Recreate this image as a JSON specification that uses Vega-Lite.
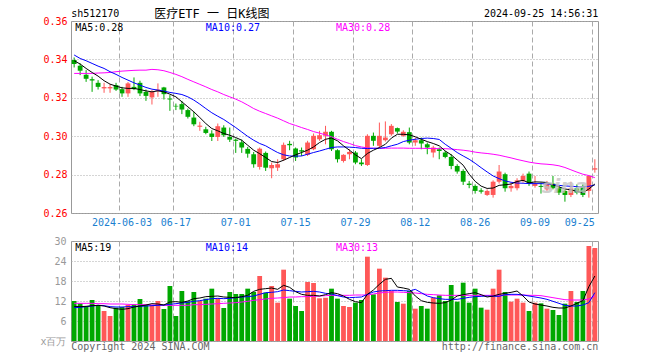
{
"$schema": "https://vega.github.io/schema/vega-lite/v6.json",
"background": "white",
"padding": {"left": 39, "top": 7, "right": 0, "bottom": 0},
"autosize": {"type": "pad"},
"bounds": "flush",
"spacing": 28,
"config": {
  "view": {"stroke": "#999999", "strokeWidth": 1},
  "font": "DejaVu Sans Mono",
  "axis": {"labelFont": "DejaVu Sans Mono", "labelFontSize": 10, "ticks": false, "domain": false, "grid": true, "gridColor": "#aaaaaa", "gridWidth": 1, "labelOverlap": false}
},
"datasets": {"k": [
{"d":"2024-05-22","o":0.3397,"h":0.3410,"l":0.3358,"c":0.3376,"v":12.0,"m5":0.3393,"m10":0.3423,"m30":0.3327,"vm5":10.4,"vm10":10.0,"vm30":11.3},
{"d":"2024-05-23","o":0.3367,"h":0.3379,"l":0.3318,"c":0.3341,"v":11.3,"m5":0.3376,"m10":0.3405,"m30":0.3327,"vm5":10.3,"vm10":10.1,"vm30":11.3},
{"d":"2024-05-24","o":0.3320,"h":0.3344,"l":0.3283,"c":0.3299,"v":10.5,"m5":0.3353,"m10":0.3393,"m30":0.3327,"vm5":10.4,"vm10":10.3,"vm30":11.3},
{"d":"2024-05-27","o":0.3297,"h":0.3310,"l":0.3231,"c":0.3290,"v":12.3,"m5":0.3332,"m10":0.3379,"m30":0.3327,"vm5":10.6,"vm10":10.5,"vm30":11.3},
{"d":"2024-05-28","o":0.3278,"h":0.3292,"l":0.3243,"c":0.3257,"v":10.8,"m5":0.3313,"m10":0.3365,"m30":0.3329,"vm5":10.7,"vm10":10.7,"vm30":11.2},
{"d":"2024-05-29","o":0.3249,"h":0.3278,"l":0.3226,"c":0.3256,"v":9.0,"m5":0.3289,"m10":0.3353,"m30":0.3330,"vm5":10.5,"vm10":10.6,"vm30":11.2},
{"d":"2024-05-30","o":0.3249,"h":0.3271,"l":0.3226,"c":0.3256,"v":7.5,"m5":0.3271,"m10":0.3336,"m30":0.3332,"vm5":10.0,"vm10":10.3,"vm30":11.1},
{"d":"2024-05-31","o":0.3266,"h":0.3278,"l":0.3236,"c":0.3243,"v":10.0,"m5":0.3261,"m10":0.3322,"m30":0.3336,"vm5":9.7,"vm10":10.2,"vm30":11.1},
{"d":"2024-06-03","o":0.3245,"h":0.3257,"l":0.3205,"c":0.3223,"v":10.2,"m5":0.3252,"m10":0.3306,"m30":0.3339,"vm5":9.5,"vm10":10.2,"vm30":11.1},
{"d":"2024-06-04","o":0.3223,"h":0.3282,"l":0.3205,"c":0.3275,"v":10.8,"m5":0.3249,"m10":0.3292,"m30":0.3341,"vm5":9.7,"vm10":10.3,"vm30":11.0},
{"d":"2024-06-05","o":0.3257,"h":0.3306,"l":0.3240,"c":0.3245,"v":11.0,"m5":0.3249,"m10":0.3278,"m30":0.3343,"vm5":10.2,"vm10":10.3,"vm30":10.9},
{"d":"2024-06-06","o":0.3278,"h":0.3289,"l":0.3209,"c":0.3223,"v":12.6,"m5":0.3243,"m10":0.3266,"m30":0.3344,"vm5":10.5,"vm10":10.4,"vm30":10.9},
{"d":"2024-06-07","o":0.3231,"h":0.3243,"l":0.3184,"c":0.3210,"v":10.8,"m5":0.3236,"m10":0.3254,"m30":0.3344,"vm5":10.8,"vm10":10.5,"vm30":10.9},
{"d":"2024-06-11","o":0.3202,"h":0.3240,"l":0.3165,"c":0.3231,"v":10.8,"m5":0.3231,"m10":0.3245,"m30":0.3348,"vm5":11.2,"vm10":10.6,"vm30":10.8},
{"d":"2024-06-12","o":0.3236,"h":0.3275,"l":0.3205,"c":0.3243,"v":12.0,"m5":0.3236,"m10":0.3240,"m30":0.3346,"vm5":11.1,"vm10":10.7,"vm30":10.8},
{"d":"2024-06-13","o":0.3254,"h":0.3257,"l":0.3191,"c":0.3219,"v":9.6,"m5":0.3231,"m10":0.3235,"m30":0.3341,"vm5":10.8,"vm10":10.8,"vm30":10.7},
{"d":"2024-06-14","o":0.3196,"h":0.3214,"l":0.3132,"c":0.3191,"v":16.5,"m5":0.3219,"m10":0.3228,"m30":0.3332,"vm5":11.7,"vm10":11.0,"vm30":10.7},
{"d":"2024-06-17","o":0.3158,"h":0.3170,"l":0.3136,"c":0.3155,"v":7.5,"m5":0.3205,"m10":0.3223,"m30":0.3322,"vm5":11.8,"vm10":11.2,"vm30":10.7},
{"d":"2024-06-18","o":0.3167,"h":0.3184,"l":0.3115,"c":0.3139,"v":15.0,"m5":0.3179,"m10":0.3217,"m30":0.3310,"vm5":11.6,"vm10":11.4,"vm30":10.7},
{"d":"2024-06-19","o":0.3136,"h":0.3144,"l":0.3092,"c":0.3101,"v":11.9,"m5":0.3153,"m10":0.3205,"m30":0.3296,"vm5":12.0,"vm10":11.6,"vm30":10.7},
{"d":"2024-06-20","o":0.3097,"h":0.3127,"l":0.3052,"c":0.3062,"v":14.7,"m5":0.3127,"m10":0.3188,"m30":0.3283,"vm5":12.7,"vm10":11.9,"vm30":10.9},
{"d":"2024-06-21","o":0.3049,"h":0.3075,"l":0.3028,"c":0.3055,"v":12.0,"m5":0.3097,"m10":0.3167,"m30":0.3270,"vm5":12.9,"vm10":12.1,"vm30":10.9},
{"d":"2024-06-24","o":0.3036,"h":0.3049,"l":0.3010,"c":0.3017,"v":12.7,"m5":0.3066,"m10":0.3144,"m30":0.3257,"vm5":13.3,"vm10":12.4,"vm30":11.0},
{"d":"2024-06-25","o":0.3014,"h":0.3031,"l":0.2975,"c":0.2996,"v":15.7,"m5":0.3040,"m10":0.3122,"m30":0.3243,"vm5":13.4,"vm10":12.7,"vm30":11.1},
{"d":"2024-06-26","o":0.2996,"h":0.3066,"l":0.2975,"c":0.3052,"v":12.8,"m5":0.3028,"m10":0.3104,"m30":0.3231,"vm5":13.5,"vm10":12.8,"vm30":11.2},
{"d":"2024-06-27","o":0.3045,"h":0.3057,"l":0.2996,"c":0.3005,"v":9.9,"m5":0.3014,"m10":0.3087,"m30":0.3217,"vm5":13.2,"vm10":12.7,"vm30":11.3},
{"d":"2024-06-28","o":0.2996,"h":0.3045,"l":0.2970,"c":0.2982,"v":14.7,"m5":0.3005,"m10":0.3066,"m30":0.3205,"vm5":13.1,"vm10":12.8,"vm30":11.4},
{"d":"2024-07-01","o":0.2982,"h":0.2988,"l":0.2913,"c":0.2976,"v":14.1,"m5":0.2993,"m10":0.3045,"m30":0.3193,"vm5":13.0,"vm10":13.0,"vm30":11.5},
{"d":"2024-07-02","o":0.2968,"h":0.2982,"l":0.2913,"c":0.2941,"v":14.1,"m5":0.2979,"m10":0.3022,"m30":0.3179,"vm5":13.3,"vm10":13.2,"vm30":11.7},
{"d":"2024-07-03","o":0.2934,"h":0.2944,"l":0.2888,"c":0.2909,"v":15.7,"m5":0.2953,"m10":0.2999,"m30":0.3162,"vm5":13.7,"vm10":13.3,"vm30":11.9},
{"d":"2024-07-04","o":0.2906,"h":0.2918,"l":0.2836,"c":0.2854,"v":14.7,"m5":0.2927,"m10":0.2979,"m30":0.3144,"vm5":14.9,"vm10":13.5,"vm30":12.2},
{"d":"2024-07-05","o":0.2840,"h":0.2941,"l":0.2826,"c":0.2935,"v":19.5,"m5":0.2909,"m10":0.2962,"m30":0.3130,"vm5":15.5,"vm10":14.0,"vm30":12.4},
{"d":"2024-07-08","o":0.2913,"h":0.2920,"l":0.2819,"c":0.2836,"v":14.5,"m5":0.2889,"m10":0.2950,"m30":0.3118,"vm5":15.7,"vm10":14.5,"vm30":12.6},
{"d":"2024-07-09","o":0.2833,"h":0.2863,"l":0.2781,"c":0.2850,"v":16.5,"m5":0.2868,"m10":0.2932,"m30":0.3106,"vm5":15.9,"vm10":14.6,"vm30":12.8},
{"d":"2024-07-10","o":0.2836,"h":0.2880,"l":0.2819,"c":0.2854,"v":11.5,"m5":0.2863,"m10":0.2915,"m30":0.3094,"vm5":15.5,"vm10":14.8,"vm30":12.9},
{"d":"2024-07-11","o":0.2880,"h":0.2967,"l":0.2871,"c":0.2955,"v":21.4,"m5":0.2875,"m10":0.2903,"m30":0.3080,"vm5":16.7,"vm10":15.3,"vm30":13.0},
{"d":"2024-07-12","o":0.2960,"h":0.2976,"l":0.2927,"c":0.2953,"v":12.7,"m5":0.2889,"m10":0.2897,"m30":0.3066,"vm5":16.1,"vm10":15.1,"vm30":13.2},
{"d":"2024-07-15","o":0.2936,"h":0.2941,"l":0.2871,"c":0.2889,"v":10.5,"m5":0.2903,"m10":0.2896,"m30":0.3056,"vm5":14.8,"vm10":14.9,"vm30":13.2},
{"d":"2024-07-16","o":0.2927,"h":0.2941,"l":0.2897,"c":0.2920,"v":9.0,"m5":0.2915,"m10":0.2897,"m30":0.3045,"vm5":14.0,"vm10":14.7,"vm30":13.3},
{"d":"2024-07-17","o":0.2903,"h":0.2976,"l":0.2897,"c":0.2967,"v":17.7,"m5":0.2927,"m10":0.2906,"m30":0.3035,"vm5":13.7,"vm10":14.8,"vm30":13.3},
{"d":"2024-07-18","o":0.2932,"h":0.3014,"l":0.2927,"c":0.3002,"v":17.4,"m5":0.2944,"m10":0.2915,"m30":0.3024,"vm5":13.7,"vm10":14.9,"vm30":13.4},
{"d":"2024-07-19","o":0.2984,"h":0.3028,"l":0.2976,"c":0.3005,"v":12.8,"m5":0.2967,"m10":0.2923,"m30":0.3016,"vm5":13.5,"vm10":14.7,"vm30":13.5},
{"d":"2024-07-22","o":0.3002,"h":0.3054,"l":0.2958,"c":0.3023,"v":13.0,"m5":0.2984,"m10":0.2932,"m30":0.3007,"vm5":13.9,"vm10":14.3,"vm30":13.6},
{"d":"2024-07-23","o":0.3023,"h":0.3028,"l":0.2923,"c":0.2932,"v":15.7,"m5":0.2990,"m10":0.2941,"m30":0.2997,"vm5":14.5,"vm10":14.1,"vm30":13.7},
{"d":"2024-07-24","o":0.2927,"h":0.2932,"l":0.2863,"c":0.2880,"v":12.7,"m5":0.2976,"m10":0.2944,"m30":0.2984,"vm5":14.2,"vm10":13.6,"vm30":13.7},
{"d":"2024-07-25","o":0.2871,"h":0.2906,"l":0.2863,"c":0.2903,"v":10.5,"m5":0.2950,"m10":0.2944,"m30":0.2972,"vm5":13.5,"vm10":13.2,"vm30":13.7},
{"d":"2024-07-26","o":0.2906,"h":0.2932,"l":0.2880,"c":0.2918,"v":10.2,"m5":0.2927,"m10":0.2943,"m30":0.2962,"vm5":12.5,"vm10":13.0,"vm30":13.7},
{"d":"2024-07-29","o":0.2915,"h":0.2923,"l":0.2854,"c":0.2863,"v":11.5,"m5":0.2903,"m10":0.2941,"m30":0.2951,"vm5":11.8,"vm10":13.1,"vm30":13.8},
{"d":"2024-07-30","o":0.2863,"h":0.2880,"l":0.2845,"c":0.2854,"v":12.3,"m5":0.2883,"m10":0.2937,"m30":0.2944,"vm5":11.5,"vm10":13.2,"vm30":13.8},
{"d":"2024-07-31","o":0.2850,"h":0.3010,"l":0.2845,"c":0.3002,"v":25.3,"m5":0.2910,"m10":0.2936,"m30":0.2939,"vm5":14.0,"vm10":14.0,"vm30":13.8},
{"d":"2024-08-01","o":0.3002,"h":0.3019,"l":0.2950,"c":0.2976,"v":14.0,"m5":0.2927,"m10":0.2937,"m30":0.2937,"vm5":15.3,"vm10":14.7,"vm30":14.1},
{"d":"2024-08-02","o":0.2950,"h":0.3071,"l":0.2941,"c":0.3002,"v":21.7,"m5":0.2941,"m10":0.2937,"m30":0.2937,"vm5":17.0,"vm10":15.0,"vm30":14.4},
{"d":"2024-08-05","o":0.2979,"h":0.3077,"l":0.2972,"c":0.2993,"v":19.0,"m5":0.2958,"m10":0.2941,"m30":0.2937,"vm5":18.5,"vm10":15.1,"vm30":14.6},
{"d":"2024-08-06","o":0.3010,"h":0.3063,"l":0.3002,"c":0.3054,"v":15.0,"m5":0.2990,"m10":0.2950,"m30":0.2938,"vm5":18.8,"vm10":15.2,"vm30":14.7},
{"d":"2024-08-07","o":0.3042,"h":0.3045,"l":0.3014,"c":0.3024,"v":11.7,"m5":0.3010,"m10":0.2958,"m30":0.2938,"vm5":16.2,"vm10":15.2,"vm30":14.7},
{"d":"2024-08-08","o":0.3002,"h":0.3031,"l":0.2997,"c":0.3023,"v":11.2,"m5":0.3010,"m10":0.2972,"m30":0.2938,"vm5":15.9,"vm10":15.1,"vm30":14.6},
{"d":"2024-08-09","o":0.3021,"h":0.3045,"l":0.2958,"c":0.2967,"v":15.0,"m5":0.3007,"m10":0.2979,"m30":0.2937,"vm5":15.5,"vm10":15.0,"vm30":14.5},
{"d":"2024-08-12","o":0.2967,"h":0.2993,"l":0.2950,"c":0.2979,"v":9.7,"m5":0.2997,"m10":0.2984,"m30":0.2937,"vm5":13.5,"vm10":15.5,"vm30":14.4},
{"d":"2024-08-13","o":0.2979,"h":0.2993,"l":0.2932,"c":0.2962,"v":10.5,"m5":0.2984,"m10":0.2988,"m30":0.2937,"vm5":12.1,"vm10":14.5,"vm30":14.2},
{"d":"2024-08-14","o":0.2958,"h":0.2967,"l":0.2906,"c":0.2941,"v":9.7,"m5":0.2972,"m10":0.2990,"m30":0.2936,"vm5":11.6,"vm10":13.5,"vm30":14.0},
{"d":"2024-08-15","o":0.2915,"h":0.2950,"l":0.2889,"c":0.2941,"v":13.0,"m5":0.2962,"m10":0.2988,"m30":0.2936,"vm5":11.4,"vm10":13.0,"vm30":13.9},
{"d":"2024-08-16","o":0.2932,"h":0.2941,"l":0.2880,"c":0.2923,"v":13.7,"m5":0.2950,"m10":0.2983,"m30":0.2935,"vm5":11.3,"vm10":12.7,"vm30":13.8},
{"d":"2024-08-19","o":0.2915,"h":0.2923,"l":0.2885,"c":0.2892,"v":12.0,"m5":0.2923,"m10":0.2958,"m30":0.2935,"vm5":11.5,"vm10":12.5,"vm30":13.7},
{"d":"2024-08-20","o":0.2892,"h":0.2906,"l":0.2828,"c":0.2845,"v":16.8,"m5":0.2903,"m10":0.2937,"m30":0.2933,"vm5":12.3,"vm10":12.5,"vm30":13.7},
{"d":"2024-08-21","o":0.2845,"h":0.2854,"l":0.2805,"c":0.2816,"v":11.8,"m5":0.2876,"m10":0.2915,"m30":0.2930,"vm5":13.5,"vm10":12.5,"vm30":13.7},
{"d":"2024-08-22","o":0.2819,"h":0.2828,"l":0.2746,"c":0.2763,"v":17.5,"m5":0.2849,"m10":0.2897,"m30":0.2927,"vm5":13.9,"vm10":12.8,"vm30":13.7},
{"d":"2024-08-23","o":0.2753,"h":0.2767,"l":0.2729,"c":0.2746,"v":11.5,"m5":0.2802,"m10":0.2880,"m30":0.2923,"vm5":14.2,"vm10":13.1,"vm30":13.7},
{"d":"2024-08-26","o":0.2741,"h":0.2749,"l":0.2701,"c":0.2715,"v":15.7,"m5":0.2765,"m10":0.2859,"m30":0.2917,"vm5":14.5,"vm10":13.3,"vm30":13.7},
{"d":"2024-08-27","o":0.2718,"h":0.2729,"l":0.2701,"c":0.2711,"v":10.0,"m5":0.2740,"m10":0.2836,"m30":0.2913,"vm5":13.9,"vm10":13.4,"vm30":13.7},
{"d":"2024-08-28","o":0.2694,"h":0.2723,"l":0.2689,"c":0.2715,"v":9.4,"m5":0.2728,"m10":0.2814,"m30":0.2910,"vm5":13.2,"vm10":13.5,"vm30":13.7},
{"d":"2024-08-29","o":0.2694,"h":0.2770,"l":0.2680,"c":0.2763,"v":15.7,"m5":0.2730,"m10":0.2793,"m30":0.2906,"vm5":13.5,"vm10":13.4,"vm30":13.7},
{"d":"2024-08-30","o":0.2763,"h":0.2850,"l":0.2753,"c":0.2816,"v":21.4,"m5":0.2744,"m10":0.2779,"m30":0.2901,"vm5":14.0,"vm10":13.4,"vm30":13.7},
{"d":"2024-09-02","o":0.2802,"h":0.2810,"l":0.2711,"c":0.2729,"v":14.7,"m5":0.2747,"m10":0.2767,"m30":0.2894,"vm5":14.3,"vm10":13.9,"vm30":13.8},
{"d":"2024-09-03","o":0.2729,"h":0.2758,"l":0.2711,"c":0.2741,"v":11.8,"m5":0.2751,"m10":0.2760,"m30":0.2887,"vm5":14.6,"vm10":14.0,"vm30":13.8},
{"d":"2024-09-04","o":0.2729,"h":0.2781,"l":0.2718,"c":0.2770,"v":12.7,"m5":0.2764,"m10":0.2756,"m30":0.2879,"vm5":15.0,"vm10":14.0,"vm30":13.8},
{"d":"2024-09-05","o":0.2767,"h":0.2805,"l":0.2758,"c":0.2793,"v":11.5,"m5":0.2770,"m10":0.2755,"m30":0.2872,"vm5":13.5,"vm10":13.8,"vm30":13.8},
{"d":"2024-09-06","o":0.2805,"h":0.2816,"l":0.2741,"c":0.2753,"v":9.0,"m5":0.2757,"m10":0.2753,"m30":0.2865,"vm5":11.7,"vm10":13.5,"vm30":13.7},
{"d":"2024-09-09","o":0.2741,"h":0.2793,"l":0.2732,"c":0.2753,"v":11.5,"m5":0.2762,"m10":0.2753,"m30":0.2860,"vm5":11.1,"vm10":13.2,"vm30":13.7},
{"d":"2024-09-10","o":0.2741,"h":0.2758,"l":0.2701,"c":0.2736,"v":11.3,"m5":0.2761,"m10":0.2753,"m30":0.2856,"vm5":10.8,"vm10":12.9,"vm30":13.6},
{"d":"2024-09-11","o":0.2723,"h":0.2767,"l":0.2715,"c":0.2758,"v":9.7,"m5":0.2759,"m10":0.2751,"m30":0.2854,"vm5":10.5,"vm10":12.5,"vm30":13.3},
{"d":"2024-09-12","o":0.2753,"h":0.2793,"l":0.2723,"c":0.2729,"v":9.3,"m5":0.2746,"m10":0.2748,"m30":0.2851,"vm5":10.1,"vm10":11.9,"vm30":13.0},
{"d":"2024-09-13","o":0.2729,"h":0.2741,"l":0.2694,"c":0.2706,"v":7.8,"m5":0.2736,"m10":0.2744,"m30":0.2846,"vm5":9.9,"vm10":11.3,"vm30":12.7},
{"d":"2024-09-18","o":0.2715,"h":0.2723,"l":0.2659,"c":0.2694,"v":11.2,"m5":0.2725,"m10":0.2741,"m30":0.2837,"vm5":9.9,"vm10":10.7,"vm30":12.4},
{"d":"2024-09-19","o":0.2694,"h":0.2763,"l":0.2683,"c":0.2729,"v":15.0,"m5":0.2721,"m10":0.2739,"m30":0.2825,"vm5":10.5,"vm10":10.5,"vm30":12.3},
{"d":"2024-09-20","o":0.2729,"h":0.2749,"l":0.2697,"c":0.2706,"v":11.7,"m5":0.2713,"m10":0.2737,"m30":0.2813,"vm5":11.3,"vm10":10.5,"vm30":12.3},
{"d":"2024-09-23","o":0.2741,"h":0.2749,"l":0.2683,"c":0.2694,"v":15.0,"m5":0.2706,"m10":0.2736,"m30":0.2802,"vm5":12.1,"vm10":10.8,"vm30":12.3},
{"d":"2024-09-24","o":0.2715,"h":0.2798,"l":0.2680,"c":0.2793,"v":28.5,"m5":0.2725,"m10":0.2739,"m30":0.2795,"vm5":16.3,"vm10":11.5,"vm30":12.6},
{"d":"2024-09-25","o":0.2826,"h":0.2880,"l":0.2810,"c":0.2833,"v":27.9,"m5":0.2751,"m10":0.2746,"m30":0.2784,"vm5":19.5,"vm10":14.5,"vm30":13.5}
]},
"vconcat": [
{
  "width": 527, "height": 192,
  "data": {"name": "k"},
  "encoding": {
    "x": {"field": "d", "type": "ordinal", "title": null,
      "scale": {"paddingInner": 0.2, "paddingOuter": 0.125},
      "axis": {"values": ["2024-06-03","2024-06-17","2024-07-01","2024-07-15","2024-07-29","2024-08-12","2024-08-26","2024-09-09","2024-09-25"],
        "bandPosition": 0, "labelAngle": 0, "labelPadding": 4, "labelColor": "#1a7fd0",
        "labelExpr": "datum.value == '2024-06-03' ? datum.value : substring(datum.value, 5)",
        "labelAlign": {"condition": {"test": "datum.value == '2024-09-25'", "value": "right"}, "value": "center"},
        "labelOverlap": false, "gridDash": [5, 3]}}
  },
  "layer": [
    {"mark": {"type": "rule", "strokeWidth": 1},
     "encoding": {
       "y": {"field": "l", "type": "quantitative", "title": null,
         "scale": {"domain": [0.26, 0.36], "nice": false, "zero": false},
         "axis": {"values": [0.26, 0.28, 0.30, 0.32, 0.34, 0.36], "tickCount": 20, "format": ".2f", "labelColor": "#ff0000", "labelPadding": 4, "gridDash": [1, 2], "labelOverlap": false}},
       "y2": {"field": "h"},
       "color": {"condition": {"test": "datum.c >= datum.o", "value": "#ff5858"}, "value": "#00a800"}}},
    {"mark": {"type": "bar"},
     "encoding": {
       "y": {"field": "o", "type": "quantitative", "title": null},
       "y2": {"field": "c"},
       "color": {"condition": {"test": "datum.c >= datum.o", "value": "#ff5858"}, "value": "#00a800"}}},
    {"mark": {"type": "line", "color": "#ff00ff", "strokeWidth": 1},
     "encoding": {"y": {"field": "m30", "type": "quantitative", "title": null}}},
    {"mark": {"type": "line", "color": "#0000ff", "strokeWidth": 1},
     "encoding": {"y": {"field": "m10", "type": "quantitative", "title": null}}},
    {"mark": {"type": "line", "color": "#000000", "strokeWidth": 1},
     "encoding": {"y": {"field": "m5", "type": "quantitative", "title": null}}},
    {"data": {"values": [{"d": "2024-09-18", "p": 0.2735, "t": "sina"}]},
     "mark": {"type": "text", "align": "center", "baseline": "middle", "font": "DejaVu Sans", "fontSize": 20, "fontStyle": "italic", "fontWeight": "bold", "color": "#c4c4c4", "opacity": 0.8},
     "encoding": {"y": {"field": "p", "type": "quantitative", "title": null}, "text": {"field": "t"}}},
    {"data": {"values": [{"d": "2024-05-22", "p": 0.36, "t": "sh512170"}]},
     "mark": {"type": "text", "align": "left", "baseline": "middle", "dx": -3, "dy": -7, "fontSize": 10, "color": "#000000"},
     "encoding": {"y": {"field": "p", "type": "quantitative", "title": null}, "text": {"field": "t"}}},
    {"data": {"values": [{"d": "2024-06-25", "p": 0.36, "t": "医疗ETF 一 日K线图"}]},
     "mark": {"type": "text", "align": "center", "baseline": "middle", "dy": -7, "font": "DejaVu Sans Mono, Noto Sans CJK SC", "fontSize": 12, "color": "#000000"},
     "encoding": {"y": {"field": "p", "type": "quantitative", "title": null}, "text": {"field": "t"}}},
    {"data": {"values": [{"d": "2024-09-25", "p": 0.36, "t": "2024-09-25 14:56:31"}]},
     "mark": {"type": "text", "align": "right", "baseline": "middle", "dx": 3.5, "dy": -7, "fontSize": 10, "color": "#000000"},
     "encoding": {"y": {"field": "p", "type": "quantitative", "title": null}, "text": {"field": "t"}}},
    {"data": {"values": [{"d": "2024-05-22", "p": 0.36, "t": "MA5:0.28"}]},
     "mark": {"type": "text", "align": "left", "baseline": "middle", "dx": 1, "dy": 7, "fontSize": 10, "color": "#000000"},
     "encoding": {"y": {"field": "p", "type": "quantitative", "title": null}, "text": {"field": "t"}}},
    {"data": {"values": [{"d": "2024-06-24", "p": 0.36, "t": "MA10:0.27"}]},
     "mark": {"type": "text", "align": "left", "baseline": "middle", "dx": 0, "dy": 7, "fontSize": 10, "color": "#0000ff"},
     "encoding": {"y": {"field": "p", "type": "quantitative", "title": null}, "text": {"field": "t"}}},
    {"data": {"values": [{"d": "2024-07-24", "p": 0.36, "t": "MA30:0.28"}]},
     "mark": {"type": "text", "align": "left", "baseline": "middle", "dx": -1.5, "dy": 7, "fontSize": 10, "color": "#ff00ff"},
     "encoding": {"y": {"field": "p", "type": "quantitative", "title": null}, "text": {"field": "t"}}}
  ]
},
{
  "width": 527, "height": 100,
  "data": {"name": "k"},
  "encoding": {
    "x": {"field": "d", "type": "ordinal", "title": null,
      "scale": {"paddingInner": 0.2, "paddingOuter": 0.125},
      "axis": {"values": ["2024-06-03","2024-06-17","2024-07-01","2024-07-15","2024-07-29","2024-08-12","2024-08-26","2024-09-09","2024-09-25"],
        "bandPosition": 0, "labels": false, "gridDash": [5, 3]}}
  },
  "layer": [
    {"mark": {"type": "bar"},
     "encoding": {
       "y": {"field": "v", "type": "quantitative", "title": null,
         "scale": {"domain": [0, 30], "nice": false},
         "axis": {"values": [0, 6, 12, 18, 24, 30], "tickCount": 20, "labelColor": "#999999", "labelPadding": 5, "gridDash": [1, 2], "labelOverlap": false,
           "labelExpr": "datum.value == 0 ? 'x百万' : datum.label"}},
       "color": {"condition": {"test": "datum.c >= datum.o", "value": "#ff5858"}, "value": "#00a800"}}},
    {"mark": {"type": "line", "color": "#ff00ff", "strokeWidth": 1},
     "encoding": {"y": {"field": "vm30", "type": "quantitative", "title": null}}},
    {"mark": {"type": "line", "color": "#0000ff", "strokeWidth": 1},
     "encoding": {"y": {"field": "vm10", "type": "quantitative", "title": null}}},
    {"mark": {"type": "line", "color": "#000000", "strokeWidth": 1},
     "encoding": {"y": {"field": "vm5", "type": "quantitative", "title": null}}},
    {"data": {"values": [{"d": "2024-05-22", "q": 30, "t": "MA5:19"}]},
     "mark": {"type": "text", "align": "left", "baseline": "middle", "dx": 1, "dy": 7, "fontSize": 10, "color": "#000000"},
     "encoding": {"y": {"field": "q", "type": "quantitative", "title": null}, "text": {"field": "t"}}},
    {"data": {"values": [{"d": "2024-06-24", "q": 30, "t": "MA10:14"}]},
     "mark": {"type": "text", "align": "left", "baseline": "middle", "dx": 0, "dy": 7, "fontSize": 10, "color": "#0000ff"},
     "encoding": {"y": {"field": "q", "type": "quantitative", "title": null}, "text": {"field": "t"}}},
    {"data": {"values": [{"d": "2024-07-24", "q": 30, "t": "MA30:13"}]},
     "mark": {"type": "text", "align": "left", "baseline": "middle", "dx": -1.5, "dy": 7, "fontSize": 10, "color": "#ff00ff"},
     "encoding": {"y": {"field": "q", "type": "quantitative", "title": null}, "text": {"field": "t"}}},
    {"data": {"values": [{"d": "2024-05-22", "q": 0, "t": "Copyright 2024 SINA.COM"}]},
     "mark": {"type": "text", "align": "left", "baseline": "middle", "dx": -3, "dy": 6, "fontSize": 10, "color": "#666666"},
     "encoding": {"y": {"field": "q", "type": "quantitative", "title": null}, "text": {"field": "t"}}},
    {"data": {"values": [{"d": "2024-09-25", "q": 0, "t": "http://finance.sina.com.cn"}]},
     "mark": {"type": "text", "align": "right", "baseline": "middle", "dx": 3.5, "dy": 6, "fontSize": 10, "color": "#666666"},
     "encoding": {"y": {"field": "q", "type": "quantitative", "title": null}, "text": {"field": "t"}}}
  ]
}
]
}
